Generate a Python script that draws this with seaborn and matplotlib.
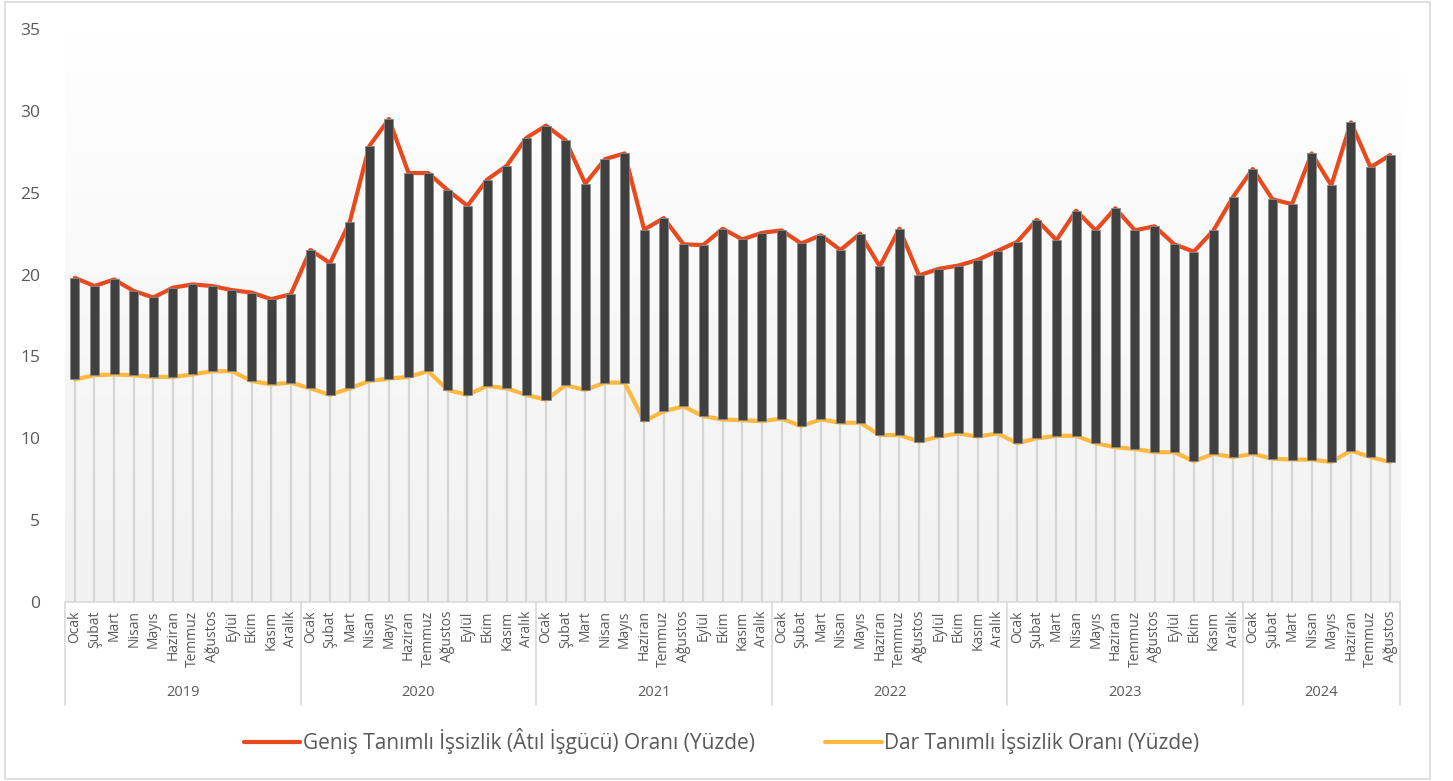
import numpy as np
import matplotlib
matplotlib.use("Agg")
import matplotlib.pyplot as plt
import matplotlib.patches as mpatches
import matplotlib.transforms as mtrans
import seaborn as sns

# month and year labels
months_tr = ['Ocak', 'Şubat', 'Mart', 'Nisan', 'Mayıs', 'Haziran', 'Temmuz',
             'Ağustos', 'Eylül', 'Ekim', 'Kasım', 'Aralık']
years = ['2019', '2020', '2021', '2022', '2023', '2024']
months_per_year = [12, 12, 12, 12, 12, 8]

# broad unemployment (atıl işgücü) rate
genis = [19.8, 19.3, 19.7, 19.0, 18.6, 19.2, 19.4, 19.3, 19.05, 18.9, 18.5, 18.8,
         21.5, 20.7, 23.2, 27.85, 29.5, 26.2, 26.2, 25.15, 24.2, 25.8, 26.65, 28.35,
         29.1, 28.2, 25.55, 27.05, 27.4, 22.75, 23.45, 21.85, 21.8, 22.8, 22.15, 22.55,
         22.7, 21.9, 22.4, 21.5, 22.5, 20.5, 22.8, 19.95, 20.35, 20.55, 20.9, 21.45,
         22.0, 23.35, 22.1, 23.9, 22.7, 24.05, 22.7, 22.95, 21.85, 21.4, 22.7, 24.75,
         26.45, 24.6, 24.3, 27.4, 25.45, 29.3, 26.55, 27.3]

# narrow unemployment rate
dar = [13.6, 13.85, 13.9, 13.85, 13.75, 13.75, 13.9, 14.1, 14.1, 13.5, 13.3, 13.4,
       13.05, 12.65, 13.05, 13.5, 13.65, 13.75, 14.1, 12.95, 12.65, 13.2, 13.05, 12.65,
       12.35, 13.25, 12.95, 13.4, 13.4, 11.05, 11.65, 11.95, 11.35, 11.15, 11.1, 11.05,
       11.2, 10.75, 11.15, 10.95, 10.95, 10.2, 10.2, 9.8, 10.1, 10.3, 10.1, 10.3,
       9.7, 10.0, 10.15, 10.15, 9.7, 9.45, 9.35, 9.15, 9.15, 8.6, 9.05, 8.85,
       9.05, 8.75, 8.7, 8.7, 8.55, 9.25, 8.85, 8.55]

month_labels = []
for n in months_per_year:
    month_labels += months_tr[:n]
x = np.arange(len(genis))

sns.set_theme(style="white")
plt.rcParams['font.family'] = ['Open Sans', 'DejaVu Sans']
txt = '#595959'
grid_c = '#d9d9d9'

fig = plt.figure(figsize=(14.53, 7.81), dpi=100)
ax = fig.add_axes([65 / 1453, 1 - 602 / 781, (1400 - 65) / 1453, (602 - 29) / 781])

# gradient background
grad = np.linspace(1, 0, 256).reshape(-1, 1)
ax.imshow(grad, extent=(-0.5, len(x) - 0.5, 0, 35), aspect='auto',
          cmap=matplotlib.colors.LinearSegmentedColormap.from_list('bg', ['#f1f1f1', '#ffffff']),
          zorder=0)

# drop lines
ax.vlines(x, 0, dar, color='#d6d6d6', lw=1.6, zorder=1)

sns.lineplot(x=x, y=genis, ax=ax, color='#E84A1E', lw=3.0, zorder=3,
             label='Geniş Tanımlı İşsizlik (Âtıl İşgücü) Oranı (Yüzde)')
sns.lineplot(x=x, y=dar, ax=ax, color='#FFB940', lw=3.0, zorder=3,
             label='Dar Tanımlı İşsizlik Oranı (Yüzde)')

# up-down bars
ax.bar(x, np.array(genis) - np.array(dar), bottom=dar, width=0.46,
       color='#404040', edgecolor='#8a8a8a', linewidth=0.6, zorder=4)

ax.set_xlim(-0.5, len(x) - 0.5)
ax.set_ylim(0, 35)
ax.set_yticks(range(0, 36, 5))
ax.tick_params(axis='y', length=0, pad=18, labelsize=12.5, labelcolor=txt)
ax.set_xticks(x)
ax.set_xticklabels(month_labels, rotation=90, fontsize=10, color=txt)
ax.tick_params(axis='x', length=0, pad=6)
for s in ['top', 'right', 'left']:
    ax.spines[s].set_visible(False)
ax.spines['bottom'].set_color(grid_c)
ax.spines['bottom'].set_linewidth(1.2)

# year separators and labels
tr = mtrans.blended_transform_factory(ax.transData, fig.transFigure)
y_top = 1 - 602 / 781
y_bot = 1 - 705 / 781
start = 0
bounds = [-0.5]
for yr, n in zip(years, months_per_year):
    end = start + n
    bounds.append(end - 0.5)
    ax.text((start + end - 1) / 2, 1 - 692 / 781, yr, transform=tr, ha='center',
            va='center', fontsize=10.5, color=txt)
    start = end
for b in bounds:
    ax.add_line(plt.Line2D([b, b], [y_top, y_bot], transform=tr, color=grid_c,
                           lw=1.2, clip_on=False))

ax.legend(loc='center', bbox_to_anchor=(721.5 / 1453, 1 - 741 / 781),
          bbox_transform=fig.transFigure, ncol=2, frameon=False, fontsize=15,
          handlelength=2.7, handletextpad=0.1, columnspacing=3.4, labelcolor=txt)

# outer chart border
fig.patches.append(mpatches.Rectangle((5 / 1453, 2 / 781), 1425 / 1453, 777 / 781,
                                      transform=fig.transFigure, fill=False,
                                      edgecolor=grid_c, lw=1.2))

fig.savefig('out.png', dpi=100)
